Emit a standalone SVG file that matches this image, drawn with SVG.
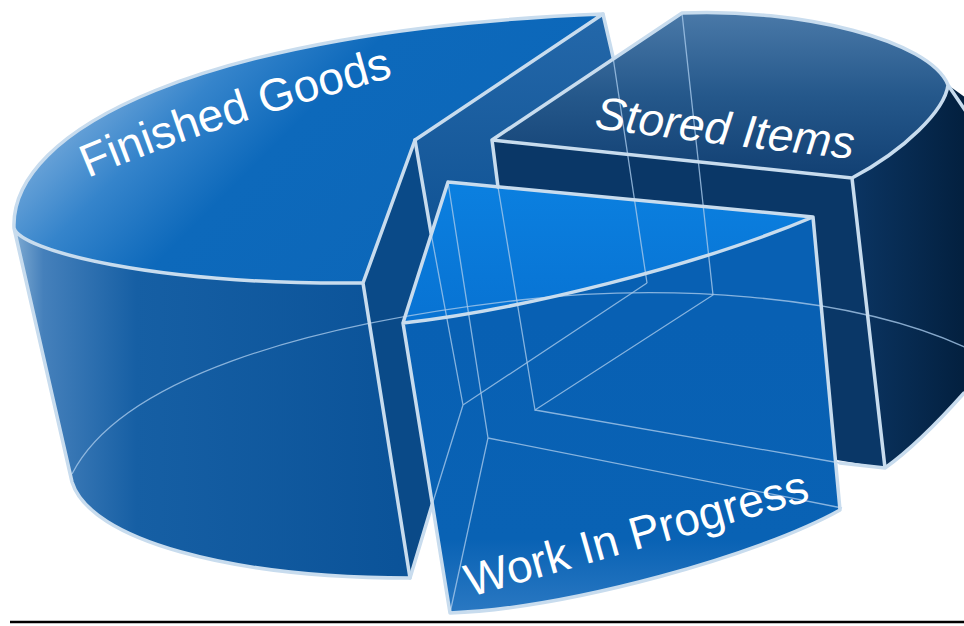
<svg xmlns="http://www.w3.org/2000/svg" width="964" height="626" viewBox="0 0 964 626">
<defs>
<linearGradient id="fgTop" gradientUnits="userSpaceOnUse" x1="0" y1="0" x2="700" y2="700">
<stop offset="0.14" stop-color="#6aa3d8"/><stop offset="0.21" stop-color="#3584cb"/><stop offset="0.30" stop-color="#0d69bb"/><stop offset="1" stop-color="#0a62b4"/>
</linearGradient>
<linearGradient id="fgSide" gradientUnits="userSpaceOnUse" x1="15" y1="0" x2="420" y2="0">
<stop offset="0" stop-color="#7eaad2"/><stop offset="0.07" stop-color="#4580bb"/><stop offset="0.3" stop-color="#165fa4"/><stop offset="1" stop-color="#0a5298"/>
</linearGradient>
<linearGradient id="fgCut2" gradientUnits="userSpaceOnUse" x1="0" y1="13" x2="0" y2="300">
<stop offset="0" stop-color="#2468aa"/><stop offset="1" stop-color="#0b4d8e"/>
</linearGradient>
<linearGradient id="siTop" gradientUnits="userSpaceOnUse" x1="0" y1="10" x2="0" y2="180">
<stop offset="0" stop-color="#4b7aa9"/><stop offset="0.5" stop-color="#25588b"/><stop offset="1" stop-color="#113f72"/>
</linearGradient>
<linearGradient id="siSide" gradientUnits="userSpaceOnUse" x1="850" y1="0" x2="964" y2="0">
<stop offset="0" stop-color="#0b3563"/><stop offset="1" stop-color="#03203f"/>
</linearGradient>
<linearGradient id="wipTop" gradientUnits="userSpaceOnUse" x1="0" y1="180" x2="0" y2="320">
<stop offset="0" stop-color="#0b80e0"/><stop offset="1" stop-color="#0873d3"/>
</linearGradient>
<linearGradient id="wipFront" gradientUnits="userSpaceOnUse" x1="0" y1="320" x2="0" y2="612">
<stop offset="0" stop-color="#0860b3"/><stop offset="0.75" stop-color="#0962b4"/><stop offset="1" stop-color="#2a78c2"/>
</linearGradient>
<path id="pFG" d="M88,178 Q211,126 412,72"/>
<path id="pSI" d="M594,128 Q720,145 864,160"/>
<path id="pWIP" d="M470,597 L826,496"/>
</defs>
<style>
.edge{fill:none;stroke:#c8dcee;stroke-width:3.5;stroke-linejoin:round;stroke-linecap:round}
.faint{fill:none;stroke:#a6c8ea;stroke-width:1.3;opacity:.8}
.lbl{font-family:"Liberation Sans",Arial,sans-serif;font-size:46px;fill:#ffffff}
</style>
<rect width="964" height="626" fill="#ffffff"/>

<g id="finished-goods">
<polygon points="415,140 603,14 613,57 647,283 463,405" fill="url(#fgCut2)"/>
<path d="M14,228 L72,482 C90,540 230,578 410,578 L363,283 C150,285 20,250 14,228 Z" fill="url(#fgSide)"/>
<path d="M363,283 C150,285 20,250 14,228 C10,130 200,30 603,14 L415,140 Z" fill="url(#fgTop)"/>
<polygon points="415,140 363,283 410,578 463,405" fill="#0a4a88"/>
</g>

<g id="stored-items">
<path d="M852,178 C905,150 945,110 948,85 L990,115 L990,370 L964,393 C940,420 910,450 885,468 Z" fill="url(#siSide)"/>
<polygon points="492,140 852,178 885,468 535,410" fill="#0a3767"/>
<path d="M492,140 L682,13 C800,8 930,40 948,85 C945,110 905,150 852,178 Z" fill="url(#siTop)"/>
</g>

<g id="work-in-progress">
<path d="M403,323 C520,310 700,265 813,217 L840,510 C760,555 570,608 450,613 Z" fill="url(#wipFront)"/>
<path d="M448,182 L813,217 C700,265 520,310 403,323 Z" fill="url(#wipTop)"/>
</g>

<g id="hidden-lines">
<path class="faint" d="M72,474 C120,380 300,325 520,300 C652,285 850,290 975,352"/>
<path class="faint" d="M431,233 L463,405 L647,283 M463,405 L432,505 M613,57 L647,283"/>
<path class="faint" d="M498,187 L535,410 L713,295 L682,13 M535,410 L840,463"/>
<path class="faint" d="M448,182 L488,438 L450,613 M488,438 L842,508"/>
</g>

<g id="edges">
<path class="edge" d="M14,228 C10,130 200,30 603,14 L415,140 L363,283 C150,285 20,250 14,228 L72,482 C90,540 230,578 410,578 L363,283"/>
<path class="edge" d="M415,140 L431,233 M603,14 L613,57 M410,578 L432,505"/>
<path class="edge" d="M492,140 L682,13 C800,8 930,40 948,85 C945,110 905,150 852,178 L492,140 M948,85 L975,125 M852,178 L885,468 L840,463 M885,468 C910,450 940,420 964,393 M492,140 L498,187"/>
<path class="edge" d="M448,182 L813,217 C700,265 520,310 403,323 L448,182 M403,323 L450,613 C570,608 760,555 840,510 L813,217"/>
</g>

<g id="labels">
<text class="lbl"><textPath href="#pFG">Finished Goods</textPath></text>
<text class="lbl" font-style="italic"><textPath href="#pSI">Stored Items</textPath></text>
<text class="lbl" font-size="47"><textPath href="#pWIP">Work In Progress</textPath></text>
</g>

<line x1="10" y1="622" x2="964" y2="622" stroke="#000000" stroke-width="2.5"/>
</svg>
